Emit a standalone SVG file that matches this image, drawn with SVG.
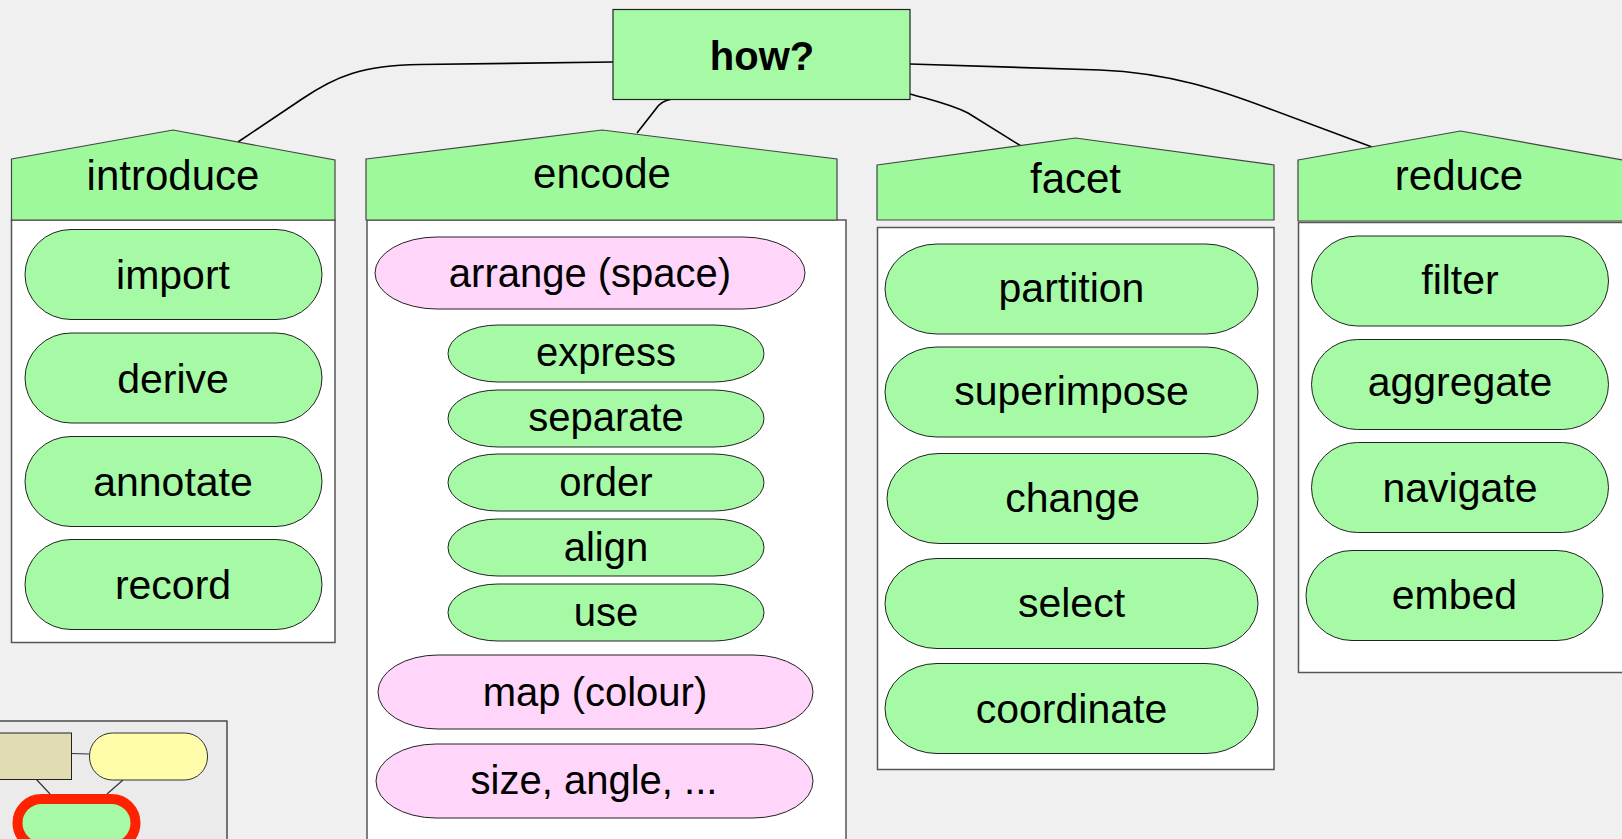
<svg xmlns="http://www.w3.org/2000/svg" width="1622" height="839" viewBox="0 0 1622 839">
  <style>
    text { font-family: "Liberation Sans", Arial, Helvetica, sans-serif; fill: #000; text-anchor: middle; }
    .root { fill: #a6faa6; stroke: #222; stroke-width: 1.2; }
    .root-label { font-size: 40px; font-weight: bold; }
    .head { fill: #9ef99c; stroke: #444; stroke-width: 1.2; }
    .head-label { font-size: 42px; }
    .body { fill: #ffffff; stroke: #555; stroke-width: 1.5; }
    .item { fill: #a6faa6; stroke: #222; stroke-width: 1; }
    .channel { fill: #ffd5f9; stroke: #222; stroke-width: 1; }
    .item-label { font-size: 41px; }
    .sub-label { font-size: 40px; }
    .edge { fill: none; stroke: #000; stroke-width: 1.6; }
    .mini-edge { fill: none; stroke: #333; stroke-width: 1.2; }
  </style>

  <rect width="1622" height="839" fill="#f0f0f0"/>

  <!-- links from the root to each category -->
  <g id="connectors">
    <path class="edge" d="M613,62 L420,64.5 C362,65.5 336,76 302,99 L238,142"/>
    <path class="edge" d="M672,99 Q660,101 655,110 L637,133"/>
    <path class="edge" d="M910,94 C935,101 950,104 968,113 L1021,146"/>
    <path class="edge" d="M910,64 L1100,70 C1170,73 1220,90 1270,109 L1372,147"/>
  </g>

  <g id="how">
    <rect class="root" x="613" y="9.5" width="297" height="90"/>
    <text class="root-label" x="762" y="70">how?</text>
  </g>

  <!-- introduce -->
  <g id="introduce">
    <rect class="body" x="11.5" y="220" width="323.5" height="422.5"/>
    <polygon class="head" points="11.5,159 173,130 335,160 335,220 11.5,220"/>
    <text class="head-label" x="173" y="190">introduce</text>
  </g>
  <g id="import">
    <rect class="item" x="25" y="229.5" width="297" height="90" rx="46" ry="45"/>
    <text class="item-label" x="173" y="289">import</text>
  </g>
  <g id="derive">
    <rect class="item" x="25" y="333" width="297" height="90" rx="46" ry="45"/>
    <text class="item-label" x="173" y="392.5">derive</text>
  </g>
  <g id="annotate">
    <rect class="item" x="25" y="436.5" width="297" height="90" rx="46" ry="45"/>
    <text class="item-label" x="173" y="496">annotate</text>
  </g>
  <g id="record">
    <rect class="item" x="25" y="539.5" width="297" height="90" rx="46" ry="45"/>
    <text class="item-label" x="173" y="599">record</text>
  </g>

  <!-- encode -->
  <g id="encode">
    <rect class="body" x="367" y="220" width="479" height="640"/>
    <polygon class="head" points="366,159 602,130 837,159 837,220 366,220"/>
    <text class="head-label" x="602" y="188">encode</text>
  </g>
  <g id="arrange">
    <rect class="channel" x="375" y="237" width="430" height="72" rx="62" ry="36"/>
    <text class="sub-label" x="590" y="287">arrange (space)</text>
  </g>
  <g id="express">
    <rect class="item" x="448" y="325" width="316" height="57" rx="50" ry="28.5"/>
    <text class="sub-label" x="606" y="366">express</text>
  </g>
  <g id="separate">
    <rect class="item" x="448" y="390" width="316" height="57" rx="50" ry="28.5"/>
    <text class="sub-label" x="606" y="431">separate</text>
  </g>
  <g id="order">
    <rect class="item" x="448" y="454" width="316" height="57" rx="50" ry="28.5"/>
    <text class="sub-label" x="606" y="496">order</text>
  </g>
  <g id="align">
    <rect class="item" x="448" y="519" width="316" height="57" rx="50" ry="28.5"/>
    <text class="sub-label" x="606" y="561">align</text>
  </g>
  <g id="use">
    <rect class="item" x="448" y="584" width="316" height="57" rx="50" ry="28.5"/>
    <text class="sub-label" x="606" y="626">use</text>
  </g>
  <g id="map">
    <rect class="channel" x="378" y="655" width="435" height="74" rx="60" ry="37"/>
    <text class="sub-label" x="595" y="706">map (colour)</text>
  </g>
  <g id="size">
    <rect class="channel" x="376" y="744" width="437" height="74" rx="60" ry="37"/>
    <text class="sub-label" x="594" y="794">size, angle, ...</text>
  </g>

  <!-- facet -->
  <g id="facet">
    <rect class="body" x="877.5" y="227.5" width="396.5" height="542"/>
    <polygon class="head" points="877,165 1075.5,138 1274,165 1274,220 877,220"/>
    <text class="head-label" x="1075.5" y="193">facet</text>
  </g>
  <g id="partition">
    <rect class="item" x="885" y="244" width="373" height="90" rx="52" ry="45"/>
    <text class="item-label" x="1071.5" y="302">partition</text>
  </g>
  <g id="superimpose">
    <rect class="item" x="885" y="347" width="373" height="90" rx="52" ry="45"/>
    <text class="item-label" x="1071.5" y="405">superimpose</text>
  </g>
  <g id="change">
    <rect class="item" x="887" y="453.5" width="371" height="90" rx="52" ry="45"/>
    <text class="item-label" x="1072.5" y="511.5">change</text>
  </g>
  <g id="select">
    <rect class="item" x="885" y="558.5" width="373" height="90" rx="52" ry="45"/>
    <text class="item-label" x="1071.5" y="617">select</text>
  </g>
  <g id="coordinate">
    <rect class="item" x="885" y="663.5" width="373" height="90" rx="52" ry="45"/>
    <text class="item-label" x="1071.5" y="723">coordinate</text>
  </g>

  <!-- reduce -->
  <g id="reduce">
    <rect class="body" x="1298.5" y="222.5" width="330" height="450"/>
    <polygon class="head" points="1298,160 1460.5,131 1623,160 1623,221 1298,221"/>
    <text class="head-label" x="1459" y="190">reduce</text>
  </g>
  <g id="filter">
    <rect class="item" x="1311.5" y="236" width="297" height="90" rx="46" ry="45"/>
    <text class="item-label" x="1460" y="294">filter</text>
  </g>
  <g id="aggregate">
    <rect class="item" x="1311.5" y="339.5" width="297" height="90" rx="46" ry="45"/>
    <text class="item-label" x="1460" y="395.5">aggregate</text>
  </g>
  <g id="navigate">
    <rect class="item" x="1311.5" y="442.5" width="297" height="90" rx="46" ry="45"/>
    <text class="item-label" x="1460" y="501.5">navigate</text>
  </g>
  <g id="embed">
    <rect class="item" x="1306" y="550.5" width="297" height="90" rx="46" ry="45"/>
    <text class="item-label" x="1454.5" y="609">embed</text>
  </g>

  <!-- overview thumbnail in the lower-left corner -->
  <g id="overview">
    <rect x="-10" y="721" width="237" height="140" fill="#ebebeb" stroke="#222" stroke-width="1.2"/>
    <path class="mini-edge" d="M71,753.5 L89,754"/>
    <path class="mini-edge" d="M36,779 L50,794"/>
    <path class="mini-edge" d="M123,780 L107,794"/>
    <rect x="-10" y="733" width="81.5" height="46.5" fill="#e0ddb4" stroke="#222" stroke-width="1"/>
    <rect x="89.5" y="733" width="118" height="47" rx="23" ry="23" fill="#fffcaa" stroke="#333" stroke-width="1"/>
    <rect x="17.5" y="799" width="118" height="48" rx="24" ry="24" fill="#a6faa6" stroke="#ff2200" stroke-width="10"/>
  </g>
</svg>
